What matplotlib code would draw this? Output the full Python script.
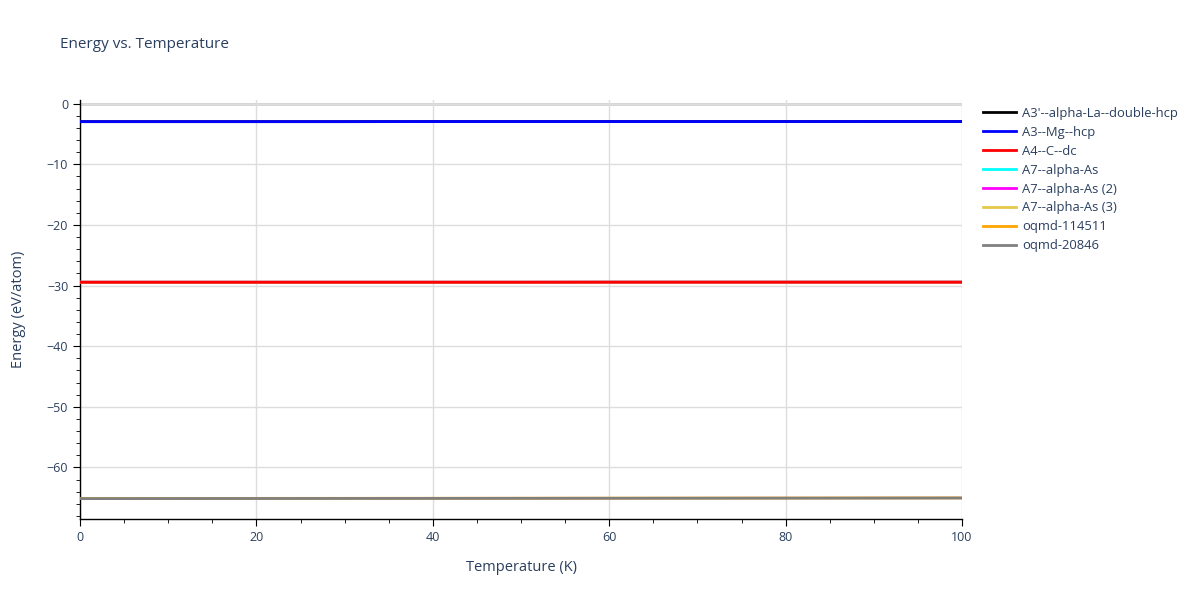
import matplotlib
matplotlib.use("Agg")
import matplotlib.pyplot as plt
from matplotlib.ticker import MultipleLocator

plt.rcParams["font.family"] = ["Open Sans", "DejaVu Sans"]

temps = [0, 10, 20, 30, 40, 50, 60, 70, 80, 90, 100]
series_names = ["A3'--alpha-La--double-hcp", "A3--Mg--hcp", "A4--C--dc",
                "A7--alpha-As", "A7--alpha-As (2)", "A7--alpha-As (3)",
                "oqmd-114511", "oqmd-20846"]
colors = ["black", "blue", "red", "cyan", "magenta", "#e6c84a", "orange", "gray"]

e_la = [-2.97, -2.97, -2.97, -2.97, -2.96, -2.96, -2.96, -2.96, -2.96, -2.95, -2.95]
e_mg = [-2.97, -2.97, -2.97, -2.97, -2.96, -2.96, -2.96, -2.96, -2.96, -2.95, -2.95]
e_c = [-29.45, -29.45, -29.45, -29.45, -29.45, -29.45, -29.44, -29.44, -29.44, -29.44, -29.44]
e_as1 = [-29.45, -29.45, -29.45, -29.45, -29.45, -29.45, -29.44, -29.44, -29.44, -29.44, -29.44]
e_as2 = [-29.45, -29.45, -29.45, -29.45, -29.45, -29.45, -29.44, -29.44, -29.44, -29.44, -29.44]
e_as3 = [-29.45, -29.45, -29.45, -29.45, -29.45, -29.45, -29.44, -29.44, -29.44, -29.44, -29.44]
e_114511 = [-65.12, -65.11, -65.10, -65.09, -65.08, -65.07, -65.06, -65.05, -65.04, -65.03, -65.02]
e_20846 = [-65.14, -65.13, -65.12, -65.11, -65.10, -65.09, -65.08, -65.07, -65.06, -65.05, -65.04]
energies = [e_la, e_mg, e_c, e_as1, e_as2, e_as3, e_114511, e_20846]
# the A7 curves sit under the A4 curve in the reference
zorders = [3, 4, 6, 3, 3, 3, 3, 4]

text_color = "#2a3f5f"

fig = plt.figure(figsize=(12, 6), dpi=100)
ax = fig.add_axes([80 / 1200, 1 - 519 / 600, 882 / 1200, 419 / 600])

for name, c, e, z in zip(series_names, colors, energies, zorders):
    ax.plot(temps, e, color=c, linewidth=2, label=name, zorder=z)

ax.set_xlim(0, 100)
ax.set_ylim(-68.5, 0.6)
ax.xaxis.set_major_locator(MultipleLocator(20))
ax.xaxis.set_minor_locator(MultipleLocator(5))
ax.yaxis.set_major_locator(MultipleLocator(10))
ax.yaxis.set_minor_locator(MultipleLocator(2))

ax.grid(which="major", color="#dddddd", linewidth=1, zorder=0)
ax.axhline(0, color="#d0d0d0", linewidth=2, zorder=1)

for s in ["top", "right"]:
    ax.spines[s].set_visible(False)
for s in ["left", "bottom"]:
    ax.spines[s].set_color("black")
    ax.spines[s].set_linewidth(1)

ax.tick_params(which="major", direction="out", length=5, color="black",
               labelcolor=text_color, labelsize=9)
ax.tick_params(which="minor", direction="out", length=3, color="black")

ax.set_xlabel("Temperature (K)", color=text_color, fontsize=10.5, labelpad=12)
ax.set_ylabel("Energy (eV/atom)", color=text_color, fontsize=10.5, labelpad=15)

fig.text(60 / 1200, 1 - 45 / 600, "Energy vs. Temperature", color=text_color,
         fontsize=11, va="center", ha="left")

leg = ax.legend(loc="upper left", bbox_to_anchor=(983 / 1200, 1 - 107 / 600),
                bbox_transform=fig.transFigure, frameon=False, fontsize=9.4,
                handlelength=2.5, handletextpad=0.5, labelspacing=0.45,
                borderaxespad=0, borderpad=0)
for t in leg.get_texts():
    t.set_color(text_color)

fig.savefig("out.png", dpi=100)
